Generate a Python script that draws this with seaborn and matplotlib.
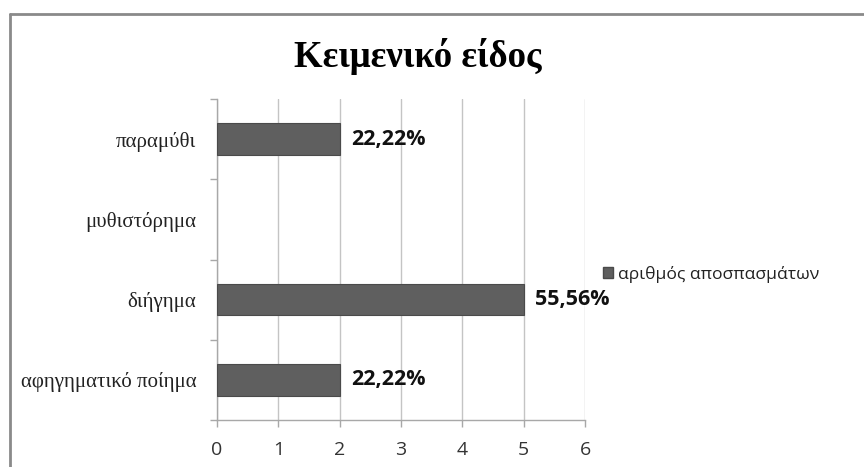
import matplotlib
matplotlib.use("Agg")
import matplotlib.pyplot as plt
from matplotlib.lines import Line2D
from matplotlib.patches import Rectangle
from matplotlib.ticker import FixedLocator
import seaborn as sns
import pandas as pd

# Text genres and number of excerpts per genre
genres = ["παραμύθι", "μυθιστόρημα", "διήγημα", "αφηγηματικό ποίημα"]
excerpts = [2, 0, 5, 2]
series_name = "αριθμός αποσπασμάτων"
title = "Κειμενικό είδος"
x_ticks = [0, 1, 2, 3, 4, 5, 6]

sns.set_style("white")
plt.rcParams["font.family"] = ["Open Sans", "DejaVu Sans"]

df = pd.DataFrame({"genre": genres, "count": excerpts})
total = sum(excerpts)

fig = plt.figure(figsize=(8.64, 4.67), dpi=100)
ax = fig.add_axes([0.2512, 0.1006, 0.4260, 0.6874])

bar_color = "#5f5f5f"
sns.barplot(data=df, x="count", y="genre", orient="h", color=bar_color,
            width=0.39, edgecolor="#4a4a4a", linewidth=0.8, ax=ax, zorder=3)

# Empty categories get no outline
for patch, c in zip(ax.containers[0], excerpts):
    if c == 0:
        patch.set_linewidth(0)

ax.set_xlim(0, 6)
ax.set_ylim(len(genres) - 0.5, -0.5)
ax.set_xticks(x_ticks)
ax.set_xlabel("")
ax.set_ylabel("")

# Vertical gridlines
ax.grid(axis="x", color="#c4c4c4", linewidth=1.0, zorder=0)
ax.grid(axis="y", visible=False)

for side in ["top", "right"]:
    ax.spines[side].set_visible(False)
for side in ["left", "bottom"]:
    ax.spines[side].set_visible(True)
    ax.spines[side].set_color("#a8a8a8")
    ax.spines[side].set_linewidth(1.0)

# Category tick marks sit on the boundaries between bars
ax.yaxis.set_minor_locator(FixedLocator([i - 0.5 for i in range(len(genres) + 1)]))
ax.tick_params(axis="y", which="major", length=0, pad=15, labelsize=15)
ax.tick_params(axis="y", which="minor", length=5, color="#a8a8a8", width=1.0, direction="out", left=True)
ax.tick_params(axis="x", which="major", length=5, color="#a8a8a8", width=1.0,
               direction="out", bottom=True, pad=10, labelsize=14, labelcolor="#333333")
for lab in ax.get_yticklabels():
    lab.set_fontfamily(["Liberation Serif", "DejaVu Serif"])
    lab.set_color("#222222")

# Percentage labels next to each non-empty bar
labels = [(f"{c / total * 100:.2f}%".replace(".", ",") if c > 0 else "") for c in excerpts]
ax.bar_label(ax.containers[0], labels=labels, padding=8, fontsize=15.5,
             fontweight="bold", color="#111111")

fig.text(0.483, 0.878, title, ha="center", va="center", fontsize=26.5,
         fontweight="bold", family=["Liberation Serif", "DejaVu Serif"], color="#000000")

handle = Rectangle((0, 0), 1, 1, facecolor=bar_color, edgecolor="#4a4a4a")
fig.legend([handle], [series_name], loc="center left",
           bbox_to_anchor=(0.680, 0.413), frameon=False, fontsize=12.6,
           handlelength=0.55, handleheight=0.55, handletextpad=0.3,
           labelcolor="#222222")

# Outer chart frame (left and top edges visible)
fig.add_artist(Line2D([9.5 / 864, 9.5 / 864], [0, 1 - 13.5 / 467], transform=fig.transFigure,
                      color="#8a8a8a", linewidth=2))
fig.add_artist(Line2D([9.5 / 864, 1], [1 - 13.5 / 467, 1 - 13.5 / 467], transform=fig.transFigure,
                      color="#8a8a8a", linewidth=2))

fig.savefig("out.png", dpi=100)
